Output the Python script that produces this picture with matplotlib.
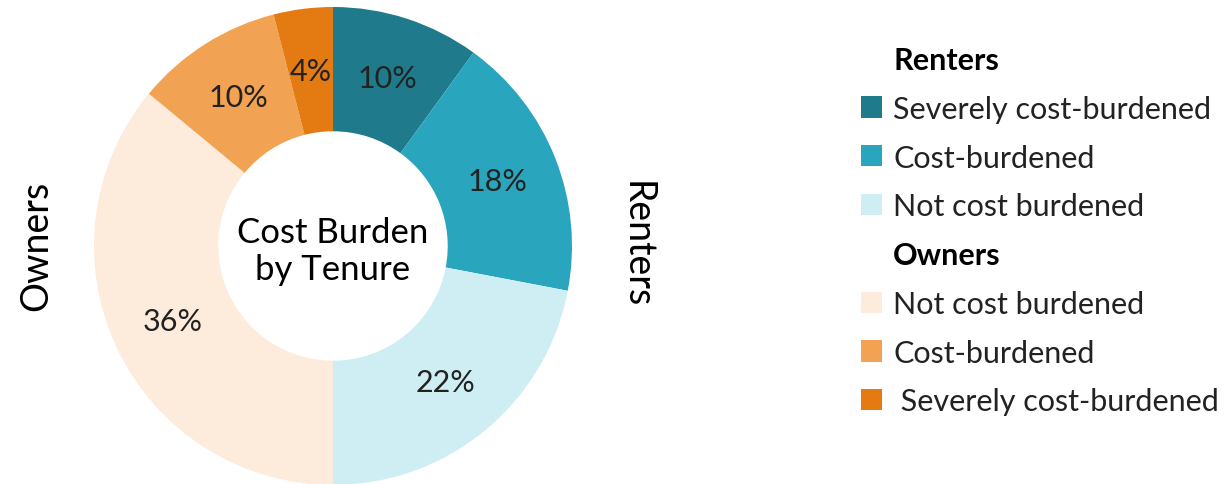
import matplotlib
matplotlib.use("Agg")
import matplotlib.pyplot as plt
from matplotlib.patches import Patch

plt.rcParams["font.family"] = ["Lato", "DejaVu Sans"]

# slices clockwise from 12 o'clock
labels = ["Severely cost-burdened", "Cost-burdened", "Not cost burdened",
          "Not cost burdened", "Cost-burdened", " Severely cost-burdened"]
groups = ["Renters", "Renters", "Renters", "Owners", "Owners", "Owners"]
shares = [10, 18, 22, 36, 10, 4]
colors = ["#1f7b8c", "#29a5be", "#cfeef3", "#fdebdc", "#f2a253", "#e47a12"]

W, H = 1232, 485
fig = plt.figure(figsize=(W / 100, H / 100), dpi=100)

# donut: centre (333, 247) px, radius 239 px
R = 239
ax = fig.add_axes([(333 - R) / W, (H - 247 - R) / H, 2 * R / W, 2 * R / H])
wedges, texts, autotexts = ax.pie(
    shares, colors=colors, startangle=90, counterclock=False,
    radius=1, autopct="%d%%", pctdistance=0.74,
    wedgeprops=dict(width=0.52, linewidth=0),
    textprops=dict(fontsize=22, color="#222222"))
ax.set_xlim(-1, 1)
ax.set_ylim(-1, 1)
ax.set_aspect("equal")
ax.axis("off")

ax.text(0, -0.02, "Cost Burden\nby Tenure", ha="center", va="center",
        fontsize=25, color="black", linespacing=1.2)

fig.text(36 / W, 1 - 246 / H, "Owners", rotation=90, ha="center", va="center",
         fontsize=27, color="black")
fig.text(637 / W, 1 - 245 / H, "Renters", rotation=-90, ha="center", va="center",
         fontsize=27, color="black")

# legend with group headers
handles, names = [], []
for g in ["Renters", "Owners"]:
    handles.append(Patch(visible=False))
    names.append(g)
    for w, lab, grp in zip(wedges, labels, groups):
        if grp == g:
            handles.append(Patch(facecolor=w.get_facecolor(), edgecolor="none"))
            names.append(lab)
leg = fig.legend(handles, names, loc="upper left",
                 bbox_to_anchor=(861 / W, 1 - 47 / H), frameon=False,
                 fontsize=22, handlelength=0.69, handleheight=0.69,
                 handletextpad=0.36, labelspacing=0.68, borderpad=0,
                 borderaxespad=0)
for t in leg.get_texts():
    t.set_color("#222222")
    if t.get_text() in ("Renters", "Owners"):
        t.set_fontweight("bold")
        t.set_color("black")

fig.savefig("out.png", dpi=100)
